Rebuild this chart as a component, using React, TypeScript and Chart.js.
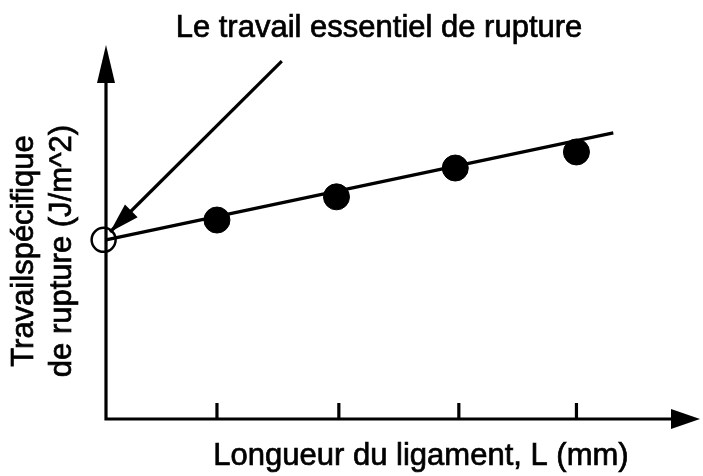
import React, { useEffect, useRef } from "react";
import { Chart, registerables } from "chart.js";

Chart.register(...registerables);

// Unlabelled tick positions on the length axis (arbitrary units)
const xTicks = [0.934, 1.96, 2.97, 3.96];
// Measured specific work of fracture
const lengths = [0.934, 1.94, 2.94, 3.96];
const work = [5.32, 5.94, 6.71, 7.14];
// Extrapolated intercept (essential work)
const interceptL = [-0.02];
const interceptW = [4.79];
// Fitted line end points
const fitX = [0, 4.27];
const fitY = [4.79, 7.65];
// Annotation arrow (start -> tip)
const arrowX = [1.48, 0.034];
const arrowY = [9.57, 5.0];

const titleText = "Le travail essentiel de rupture";
const xLabel = "Longueur du ligament, L (mm)";
const yLabelLines = ["Travailspécifique", "de rupture (J/m^2)"];

const FONT = '31px "Liberation Sans", Arial, Helvetica, sans-serif';

const axesPlugin = {
  id: "axesArrows",
  beforeDatasetsDraw(chart: any) {
    const ctx = chart.ctx;
    const xs = chart.scales.x;
    const ys = chart.scales.y;
    const { top, right } = chart.chartArea;
    const x0 = xs.getPixelForValue(0);
    const y0 = ys.getPixelForValue(0);
    ctx.save();
    ctx.strokeStyle = "#000";
    ctx.fillStyle = "#000";
    ctx.lineWidth = 3.2;
    ctx.lineCap = "square";
    ctx.lineJoin = "miter";
    ctx.beginPath();
    ctx.moveTo(x0, top + 30);
    ctx.lineTo(x0, y0);
    ctx.lineTo(right - 24, y0);
    ctx.stroke();
    // y arrow head
    ctx.beginPath();
    ctx.moveTo(x0, top);
    ctx.lineTo(x0 - 9, top + 38);
    ctx.lineTo(x0 + 9, top + 38);
    ctx.closePath();
    ctx.fill();
    // x arrow head
    ctx.beginPath();
    ctx.moveTo(right, y0);
    ctx.lineTo(right - 29, y0 - 10);
    ctx.lineTo(right - 29, y0 + 10);
    ctx.closePath();
    ctx.fill();
    // ticks
    ctx.lineCap = "butt";
    xTicks.forEach((t) => {
      const px = xs.getPixelForValue(t);
      ctx.beginPath();
      ctx.moveTo(px, y0);
      ctx.lineTo(px, y0 - 16);
      ctx.stroke();
    });
    ctx.restore();
  },
  afterDatasetsDraw(chart: any) {
    const ctx = chart.ctx;
    const xs = chart.scales.x;
    const ys = chart.scales.y;
    const sx = xs.getPixelForValue(arrowX[0]);
    const sy = ys.getPixelForValue(arrowY[0]);
    const tx = xs.getPixelForValue(arrowX[1]);
    const ty = ys.getPixelForValue(arrowY[1]);
    const ang = Math.atan2(ty - sy, tx - sx);
    const len = 30;
    const hw = 9;
    const bx = tx - len * Math.cos(ang);
    const by = ty - len * Math.sin(ang);
    ctx.save();
    ctx.fillStyle = "#000";
    ctx.beginPath();
    ctx.moveTo(tx, ty);
    ctx.lineTo(bx + hw * Math.sin(ang), by - hw * Math.cos(ang));
    ctx.lineTo(bx - hw * Math.sin(ang), by + hw * Math.cos(ang));
    ctx.closePath();
    ctx.fill();
    ctx.restore();
  },
  afterDraw(chart: any) {
    const ctx = chart.ctx;
    ctx.save();
    ctx.fillStyle = "#000";
    ctx.strokeStyle = "#000";
    ctx.lineWidth = 0.7;
    ctx.font = FONT;
    ctx.textAlign = "center";
    ctx.textBaseline = "alphabetic";
    const put = (t: string, x: number, y: number) => {
      ctx.fillText(t, x, y);
      ctx.strokeText(t, x, y);
    };
    put(titleText, 379, 37);
    put(xLabel, 421, 465);
    const baselines = [33, 71];
    yLabelLines.forEach((line, i) => {
      ctx.save();
      ctx.translate(baselines[i], 251);
      ctx.rotate(-Math.PI / 2);
      put(line, 0, 0);
      ctx.restore();
    });
    ctx.restore();
  },
};

export default function App() {
  const ref = useRef<HTMLCanvasElement | null>(null);
  useEffect(() => {
    if (!ref.current) return;
    const chart = new Chart(ref.current, {
      type: "scatter",
      data: {
        datasets: [
          {
            data: fitX.map((x, i) => ({ x, y: fitY[i] })),
            showLine: true,
            borderColor: "#000",
            borderWidth: 3.2,
            pointRadius: 0,
            clip: false,
          } as any,
          {
            data: arrowX.map((x, i) => ({ x, y: arrowY[i] })),
            showLine: true,
            borderColor: "#000",
            borderWidth: 3.2,
            pointRadius: 0,
            clip: false,
          } as any,
          {
            data: lengths.map((x, i) => ({ x, y: work[i] })),
            pointRadius: 13,
            backgroundColor: "#000",
            borderColor: "#000",
            borderWidth: 1,
            clip: false,
          } as any,
          {
            data: interceptL.map((x, i) => ({ x, y: interceptW[i] })),
            pointRadius: 12,
            backgroundColor: "rgba(0,0,0,0)",
            borderColor: "#000",
            borderWidth: 2.5,
            clip: false,
          } as any,
        ],
      },
      options: {
        animation: false,
        responsive: false,
        maintainAspectRatio: false,
        events: [],
        layout: { autoPadding: false, padding: { left: 106, right: 3, top: 45, bottom: 57 } },
        plugins: {
          legend: { display: false },
          tooltip: { enabled: false },
          title: { display: false },
        },
        scales: {
          x: { type: "linear", min: 0, max: 5, display: false },
          y: { type: "linear", min: 0, max: 10, display: false },
        },
      },
      plugins: [axesPlugin],
    });
    return () => chart.destroy();
  }, []);
  return (
    <div style={{ position: "absolute", left: 0, top: 0, width: 703, height: 476, background: "#fff" }}>
      <canvas ref={ref} width={703} height={476} style={{ display: "block" }} />
    </div>
  );
}
